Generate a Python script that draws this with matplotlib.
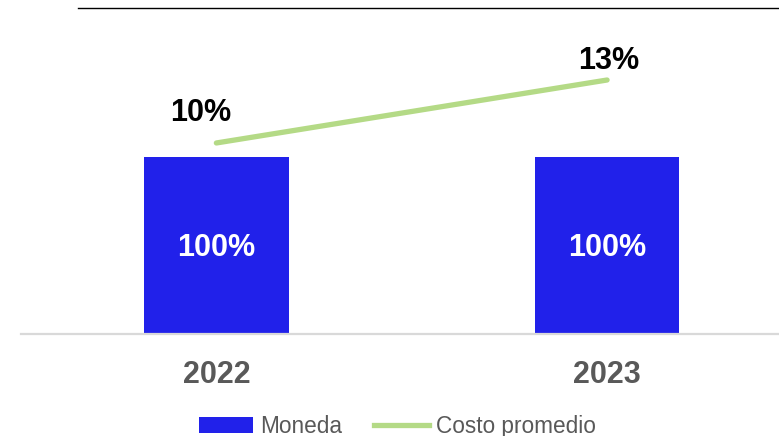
import numpy as np
import matplotlib.pyplot as plt
from matplotlib.patches import Patch
from matplotlib.lines import Line2D

plt.rcParams['font.family'] = ['Liberation Sans', 'DejaVu Sans']

# datos del grafico
anios = ['2022', '2023']
moneda = [100, 100]
costo_promedio = [10, 13]
etiquetas_moneda = ['100%', '100%']
etiquetas_costo = ['10%', '13%']

color_barra = '#2121EA'
color_linea = '#B4DA86'
gris = '#595959'

fig = plt.figure(figsize=(7.79, 4.36), dpi=100)
ax = fig.add_axes([21 / 779, 102 / 436, 758 / 779, 326 / 436])

x = np.arange(len(anios))
barras = ax.bar(x, moneda, width=0.37, color=color_barra, zorder=2)
ax.bar_label(barras, labels=etiquetas_moneda, label_type='center', padding=-2,
             color='white', fontsize=22, fontweight='bold')

ax.set_xlim(-0.5, 1.44)
ax.set_ylim(0, 184)
ax.set_xticks(x)
ax.set_xticklabels(anios, fontsize=22, fontweight='bold', color=gris)
ax.tick_params(axis='x', length=0, pad=19)
ax.set_yticks([])
for s in ['left', 'right']:
    ax.spines[s].set_visible(False)
ax.spines['bottom'].set_color('#D9D9D9')
ax.spines['bottom'].set_linewidth(1.6)
ax.spines['top'].set_color('black')
ax.spines['top'].set_linewidth(1.0)
ax.spines['top'].set_bounds(-0.354, 1.44)

# eje secundario para el costo
ax2 = ax.twinx()
ax2.plot(x, costo_promedio, color=color_linea, linewidth=3.8,
         solid_capstyle='round', zorder=3)
ax2.set_ylim(0.9, 16.43)
ax2.set_yticks([])
for s in ax2.spines.values():
    s.set_visible(False)

desplazamientos = [(-11.5, 21.6), (1.4, 13.7)]
for xi, yi, txt, off in zip(x, costo_promedio, etiquetas_costo, desplazamientos):
    ax2.annotate(txt, (xi, yi), xytext=off, textcoords='offset points',
                 ha='center', va='center', fontsize=22, fontweight='bold',
                 color='black')

handles = [Patch(facecolor=color_barra, label='Moneda'),
           Line2D([0], [0], color=color_linea, linewidth=3.8, label='Costo promedio')]
fig.legend(handles=handles, loc='center', bbox_to_anchor=(397 / 779, 1 - 426 / 436),
           ncol=2, frameon=False, fontsize=16.3, labelcolor=gris,
           handlelength=2.4, handletextpad=0.3, columnspacing=1.45)

plt.savefig('out.png', dpi=100)
